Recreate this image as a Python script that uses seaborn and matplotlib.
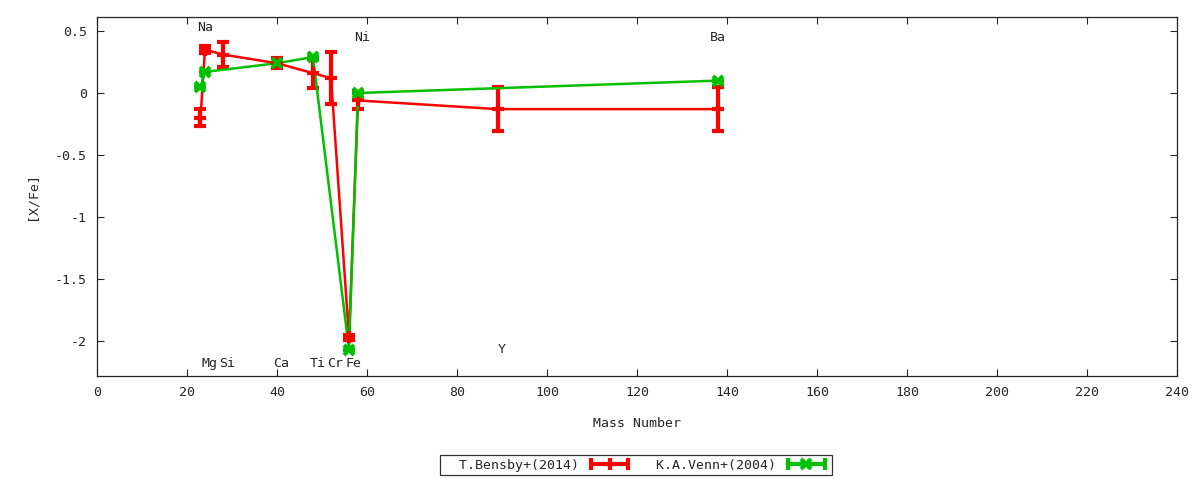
import seaborn as sns
import matplotlib.pyplot as plt
import pandas as pd
from matplotlib.lines import Line2D
from matplotlib.legend_handler import HandlerLine2D, HandlerTuple

# Bensby+(2014)
bensby_A = [23, 24, 28, 40, 48, 52, 56, 58, 89, 138]
bensby_val = [-0.20, 0.35, 0.31, 0.24, 0.16, 0.12, -1.97, -0.06, -0.13, -0.13]
bensby_err = [0.07, 0.03, 0.10, 0.04, 0.12, 0.21, 0.02, 0.07, 0.18, 0.18]

# Venn+(2004)
venn_A = [23, 24, 40, 48, 56, 58, 138]
venn_val = [0.05, 0.17, 0.24, 0.29, -2.07, 0.0, 0.10]
venn_err = [0, 0, 0, 0, 0, 0, 0]

# element labels
elem_names = ['Na', 'Mg', 'Si', 'Ca', 'Ti', 'Cr', 'Fe', 'Ni', 'Y', 'Ba']
elem_x = [24, 25, 29, 41, 49, 53, 57, 59, 90, 138]
elem_y = [0.53, -2.18, -2.18, -2.18, -2.18, -2.18, -2.18, 0.45, -2.07, 0.45]

RED = '#ff0000'
GREEN = '#00c000'

sns.set_style('ticks')
plt.rcParams['font.family'] = ['DejaVu Sans Mono']
plt.rcParams['font.size'] = 9.5

fig = plt.figure(figsize=(12, 4.8), dpi=100)
ax = fig.add_axes([0.0808, 0.2167, 0.9002, 0.7479])

df_b = pd.DataFrame({'A': bensby_A, 'val': bensby_val})
df_v = pd.DataFrame({'A': venn_A, 'val': venn_val})

sns.lineplot(data=df_b, x='A', y='val', sort=False, color=RED, lw=1.8, ax=ax)
ax.errorbar(bensby_A, bensby_val, yerr=bensby_err, fmt='+', color=RED,
            ms=8, mew=3, elinewidth=3, capsize=4, capthick=3)
sns.lineplot(data=df_v, x='A', y='val', sort=False, color=GREEN, lw=1.8, ax=ax)
ax.errorbar(venn_A, venn_val, yerr=venn_err, fmt='x', color=GREEN,
            ms=7, mew=3, elinewidth=3, capsize=4, capthick=3)

for name, x, y in zip(elem_names, elem_x, elem_y):
    ax.text(x, y, name, ha='center', va='center')

ax.set_xlim(0, 240)
ax.set_ylim(-2.282, 0.613)
ax.set_xticks(range(0, 241, 20))
ax.set_yticks([0.5, 0, -0.5, -1, -1.5, -2])
ax.set_yticklabels(['0.5', '0', '-0.5', '-1', '-1.5', '-2'])
ax.tick_params(direction='in', top=True, right=True, length=5, width=0.8, pad=7)
for s in ax.spines.values():
    s.set_linewidth(0.9)
ax.set_xlabel('Mass Number', labelpad=13)
ax.set_ylabel('[X/Fe]', labelpad=12)

# legend: line with caps at ends and point in the middle
handles = []
hmap = {}
for c, m, ms in [(RED, '+', 8), (GREEN, 'x', 7)]:
    caps = Line2D([], [], color=c, lw=3, marker='|', ms=9, mew=3)
    pt = Line2D([], [], color=c, lw=0, marker=m, ms=ms, mew=3)
    handles.append((caps, pt))
    hmap[caps] = HandlerLine2D(numpoints=2)
    hmap[pt] = HandlerLine2D(numpoints=1)
hmap[tuple] = HandlerTuple(ndivide=1)
leg = fig.legend(handles, ['  T.Bensby+(2014)', '  K.A.Venn+(2004)'], ncol=2,
                 loc='center', bbox_to_anchor=(0.53, 0.031), markerfirst=False,
                 handler_map=hmap,
                 frameon=True, fancybox=False, edgecolor='black',
                 handlelength=3.4, columnspacing=0.6, borderpad=0.25,
                 handletextpad=0.6, borderaxespad=0)
leg.get_frame().set_linewidth(0.9)

plt.savefig('out.png', dpi=100)
